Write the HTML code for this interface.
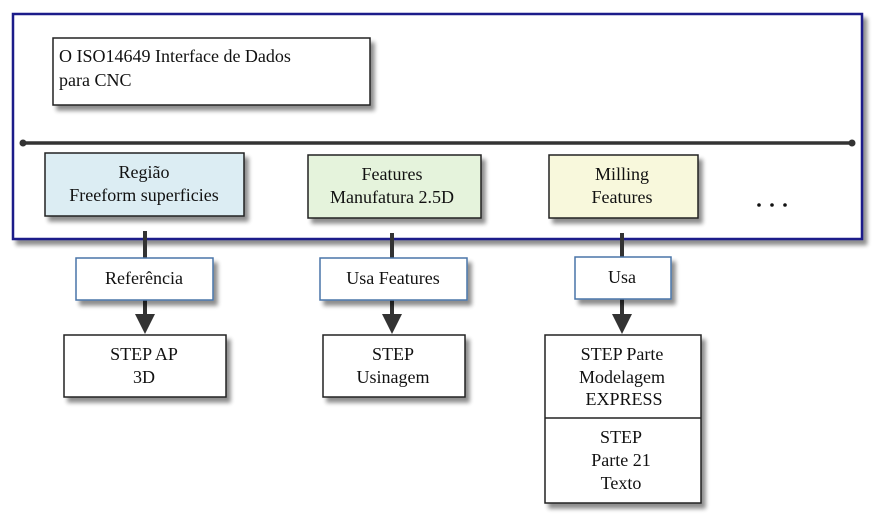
<!DOCTYPE html>
<html><head><meta charset="utf-8"><style>
html,body{margin:0;padding:0;background:#fff;width:874px;height:520px;overflow:hidden}
text{font-family:"Liberation Serif","DejaVu Serif",serif;font-size:18px;fill:#111}
</style></head><body>
<svg width="874" height="520" viewBox="0 0 874 520" xmlns="http://www.w3.org/2000/svg">
<defs>
<filter id="sh" x="-10%" y="-10%" width="130%" height="140%">
<feGaussianBlur in="SourceAlpha" stdDeviation="2"/><feOffset dx="4" dy="5"/>
<feComponentTransfer><feFuncA type="linear" slope="0.45"/></feComponentTransfer>
<feMerge><feMergeNode/><feMergeNode in="SourceGraphic"/></feMerge></filter>
</defs>
<rect x="13" y="14" width="849" height="225" fill="#fff" stroke="#1a1a8a" stroke-width="2.5" filter="url(#sh)"/>
<rect x="53" y="38" width="317" height="67" fill="#fff" stroke="#222" stroke-width="1.5" filter="url(#sh)"/>
<text x="59" y="62">O ISO14649 Interface de Dados</text>
<text x="59" y="86">para CNC</text>
<line x1="23" y1="143" x2="852" y2="143" stroke="#333" stroke-width="3.5"/>
<circle cx="23" cy="143" r="3.5" fill="#333"/><circle cx="852" cy="143" r="3.5" fill="#333"/>
<rect x="45" y="153" width="199" height="63" fill="#dcedf3" stroke="#222" stroke-width="1.5" filter="url(#sh)"/>
<text x="144" y="178" text-anchor="middle">Região</text>
<text x="144" y="201" text-anchor="middle">Freeform superficies</text>
<rect x="308" y="155" width="173" height="63" fill="#e5f3dc" stroke="#222" stroke-width="1.5" filter="url(#sh)"/>
<text x="392" y="180" text-anchor="middle">Features</text>
<text x="392" y="203" text-anchor="middle">Manufatura 2.5D</text>
<rect x="549" y="155" width="149" height="63" fill="#f8f8dc" stroke="#222" stroke-width="1.5" filter="url(#sh)"/>
<text x="622" y="180" text-anchor="middle">Milling</text>
<text x="622" y="203" text-anchor="middle">Features</text>
<g fill="#111"><circle cx="759" cy="205" r="1.8"/><circle cx="772" cy="205" r="1.8"/><circle cx="785" cy="205" r="1.8"/></g>
<g stroke="#333" stroke-width="4">
<line x1="145" y1="231" x2="145" y2="315"/>
<line x1="392" y1="233" x2="392" y2="315"/>
<line x1="622" y1="233" x2="622" y2="315"/>
</g>
<g fill="#333">
<polygon points="135,314 155,314 145,334"/>
<polygon points="382,314 402,314 392,334"/>
<polygon points="612,314 632,314 622,334"/>
</g>
<g fill="#fff" stroke="#4a74a8" stroke-width="1.5" filter="url(#sh)">
<rect x="76" y="258" width="137" height="42"/>
<rect x="320" y="258" width="147" height="42"/>
<rect x="575" y="257" width="96" height="42"/>
</g>
<text x="144" y="284" text-anchor="middle">Referência</text>
<text x="393" y="284" text-anchor="middle">Usa Features</text>
<text x="622" y="283" text-anchor="middle">Usa</text>
<g fill="#fff" stroke="#222" stroke-width="1.5" filter="url(#sh)">
<rect x="64" y="335" width="162" height="62"/>
<rect x="323" y="335" width="142" height="62"/>
<rect x="545" y="335" width="156" height="168"/>
</g>
<line x1="545" y1="418" x2="701" y2="418" stroke="#222" stroke-width="1.5"/>
<text x="144" y="360" text-anchor="middle">STEP AP</text>
<text x="144" y="383" text-anchor="middle">3D</text>
<text x="393" y="360" text-anchor="middle">STEP</text>
<text x="393" y="383" text-anchor="middle">Usinagem</text>
<text x="622" y="360" text-anchor="middle">STEP Parte</text>
<text x="622" y="383" text-anchor="middle">Modelagem</text>
<text x="624" y="405" text-anchor="middle">EXPRESS</text>
<text x="621" y="443" text-anchor="middle">STEP</text>
<text x="621" y="466" text-anchor="middle">Parte 21</text>
<text x="621" y="489" text-anchor="middle">Texto</text>
</svg>
</body></html>
